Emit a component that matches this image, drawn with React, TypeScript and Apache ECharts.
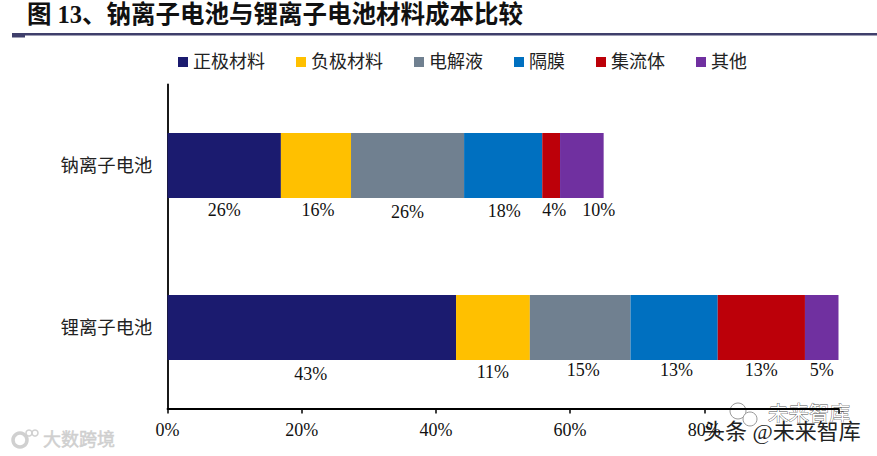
import React, { useEffect, useRef } from "react";
import * as echarts from "echarts";

const categories = ["钠离子电池", "锂离子电池"];
const seriesNames = ["正极材料", "负极材料", "电解液", "隔膜", "集流体", "其他"];
const sodiumWidths = [16.9, 10.45, 16.85, 11.65, 2.65, 6.5];
const lithiumWidths = [43, 11, 15, 13, 13, 5];
const sodiumLabels = ["26%", "16%", "26%", "18%", "4%", "10%"];
const lithiumLabels = ["43%", "11%", "15%", "13%", "13%", "5%"];
const xTicks = [0, 20, 40, 60, 80, 100];

const colors = ["#1B1B6F", "#FFC000", "#708090", "#0070C0", "#BC0009", "#7030A0"];
const sodiumNudge = [[0, 3], [2, 3], [0, 5], [1, 4], [3, 3], [17, 3]];
const lithiumNudge = [[-1, 5], [0, 3], [3, 1], [2.5, 1], [0, 1], [0, 1]];

const LATIN = '"Liberation Serif"';
const MIXED = '"Liberation Serif", "Noto Sans CJK SC"';

export default function App() {
  const ref = useRef<HTMLDivElement>(null);
  useEffect(() => {
    const chart = echarts.init(ref.current!, undefined, { renderer: "svg" });
    const mkLabel = (text: string, nudge: number[]) => ({
      show: true,
      position: "bottom",
      distance: 0,
      offset: nudge,
      formatter: text,
      fontFamily: LATIN,
      fontSize: 18,
      color: "#111",
    });
    chart.setOption({
      animation: false,
      backgroundColor: "#fff",
      grid: { left: 167.5, top: 84.5, width: 671, height: 324 },
      legend: {
        left: 173,
        top: 48,
        itemWidth: 10,
        itemHeight: 10,
        itemGap: 31,
        icon: "rect",
        data: seriesNames,
        textStyle: { fontFamily: MIXED, fontSize: 18, color: "#222" },
      },
      xAxis: {
        type: "value",
        min: 0,
        max: 100,
        interval: 20,
        splitLine: { show: false },
        axisLine: { show: true, lineStyle: { color: "#000", width: 1.8 } },
        axisTick: { show: true, length: 5, lineStyle: { color: "#000", width: 1.5 } },
        axisLabel: {
          margin: 12,
          fontFamily: LATIN,
          fontSize: 18,
          color: "#111",
          hideOverlap: false,
          formatter: (v: number) => (v === xTicks[5] ? "" : v + "%"),
        },
      },
      yAxis: {
        type: "category",
        inverse: true,
        data: categories,
        axisLine: { show: true, lineStyle: { color: "#000", width: 1.8 } },
        axisTick: { show: false },
        axisLabel: { margin: 15, fontFamily: MIXED, fontSize: 18.4, color: "#222" },
      },
      series: seriesNames.map((name, i) => ({
        name,
        type: "bar",
        stack: "cost",
        barWidth: "40%",
        itemStyle: { color: colors[i] },
        data: [
          { value: sodiumWidths[i], label: mkLabel(sodiumLabels[i], sodiumNudge[i]) },
          { value: lithiumWidths[i], label: mkLabel(lithiumLabels[i], lithiumNudge[i]) },
        ],
      })),
      graphic: [
        {
          type: "text",
          x: 27,
          y: 2,
          style: {
            text: "图 13、钠离子电池与锂离子电池材料成本比较",
            fontFamily: MIXED,
            fontWeight: "bold",
            fontSize: 24.5,
            fill: "#111",
          },
        },
        { type: "rect", shape: { x: 12, y: 33, width: 865, height: 2.5 }, style: { fill: "#3F3F6B" } },
        { type: "rect", shape: { x: 12, y: 35, width: 13, height: 2.5 }, style: { fill: "#3F3F6B" } },
        // watermarks
        { type: "circle", shape: { cx: 20, cy: 440, r: 7 }, style: { fill: "none", stroke: "#d0d0d0", lineWidth: 3.5 } },
        { type: "circle", shape: { cx: 29, cy: 433, r: 3 }, style: { fill: "none", stroke: "#d0d0d0", lineWidth: 1.5 } },
        { type: "circle", shape: { cx: 35, cy: 433, r: 3 }, style: { fill: "none", stroke: "#d0d0d0", lineWidth: 1.5 } },
        {
          type: "text",
          x: 43,
          y: 431,
          style: { text: "大数跨境", fontFamily: MIXED, fontSize: 18, fill: "#cfcfcf", stroke: "#cfcfcf", lineWidth: 0.5 },
        },
        { type: "circle", shape: { cx: 738, cy: 411, r: 8 }, style: { fill: "#fff", stroke: "#999", lineWidth: 1 } },
        { type: "circle", shape: { cx: 750, cy: 419, r: 7 }, style: { fill: "#fff", stroke: "#999", lineWidth: 1 } },
        {
          type: "text",
          x: 768,
          y: 404,
          style: { text: "未来智库", fontFamily: MIXED, fontSize: 20.5, fill: "#fff", stroke: "#555", lineWidth: 0.8 },
        },
        {
          type: "text",
          x: 703,
          y: 420,
          style: {
            text: "头条 @未来智库",
            fontFamily: MIXED,
            fontSize: 22,
            fill: "#222",
            stroke: "#fff",
            lineWidth: 1,
          },
        },
      ],
    });
    return () => chart.dispose();
  }, []);
  return (
    <div
      ref={ref}
      style={{ position: "fixed", left: 0, top: 0, width: 877, height: 456 }}
    />
  );
}
